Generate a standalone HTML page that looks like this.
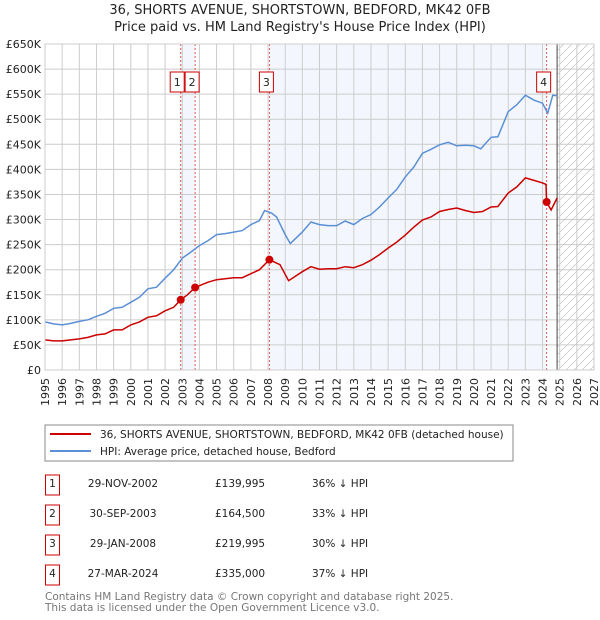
<!DOCTYPE html>
<html><head><meta charset="utf-8"><style>
body{margin:0;background:#fff;}
svg{display:block;font-family:"DejaVu Sans","Liberation Sans",sans-serif;}
</style></head><body>
<svg id="chart" width="600" height="620" viewBox="0 0 600 620" xmlns="http://www.w3.org/2000/svg">
<defs>
<pattern id="hatch" patternUnits="userSpaceOnUse" width="8" height="8">
<path d="M0,8 L8,0" stroke="#cccccc" stroke-width="0.8"/>
</pattern>
</defs>
<text x="300" y="14" text-anchor="middle" font-size="13" fill="#222">36, SHORTS AVENUE, SHORTSTOWN, BEDFORD, MK42 0FB</text>
<text x="300" y="31" text-anchor="middle" font-size="13" fill="#222">Price paid vs. HM Land Registry's House Price Index (HPI)</text>
<g id="plot"></g>
<g id="legend">
<rect x="45" y="425" width="468" height="36" fill="#fff" stroke="#888" stroke-width="1"/>
<line x1="50" y1="434" x2="91" y2="434" stroke="#cc0000" stroke-width="2"/>
<text x="100" y="438" font-size="10.5" fill="#222">36, SHORTS AVENUE, SHORTSTOWN, BEDFORD, MK42 0FB (detached house)</text>
<line x1="50" y1="451" x2="91" y2="451" stroke="#5b8fd6" stroke-width="2"/>
<text x="100" y="455" font-size="10.5" fill="#222">HPI: Average price, detached house, Bedford</text>
</g>
<g id="table"></g>
<text x="45" y="600" font-size="10.5" fill="#777">Contains HM Land Registry data © Crown copyright and database right 2025.</text>
<text x="45" y="611" font-size="10.5" fill="#777">This data is licensed under the Open Government Licence v3.0.</text>
</svg>
<script>
const hpiYears=[1995,1995.5,1996,1996.5,1997,1997.5,1998,1998.5,1999,1999.5,2000,2000.5,2001,2001.5,2002,2002.5,2003,2003.5,2004,2004.5,2005,2005.5,2006,2006.5,2007,2007.5,2007.8,2008.2,2008.5,2009,2009.3,2010,2010.5,2011,2011.5,2012,2012.5,2013,2013.5,2014,2014.5,2015,2015.5,2016,2016.5,2017,2017.5,2018,2018.5,2019,2019.5,2020,2020.4,2021,2021.4,2022,2022.5,2023,2023.5,2024,2024.3,2024.6,2024.85];
const hpiValues=[96,92,90,93,97,100,107,113,123,125,135,145,162,165,183,200,223,235,248,258,270,272,275,278,290,298,318,313,305,270,252,275,295,290,288,288,297,290,302,310,325,343,360,385,405,432,440,449,454,447,448,447,441,464,465,515,529,548,538,532,512,548,547];
const ppYears=[1995,1995.5,1996,1996.5,1997,1997.5,1998,1998.5,1999,1999.5,2000,2000.5,2001,2001.5,2002,2002.5,2002.91,2003.3,2003.75,2004,2004.5,2005,2005.5,2006,2006.5,2007,2007.5,2008.08,2008.7,2009.2,2010,2010.5,2011,2011.5,2012,2012.5,2013,2013.5,2014,2014.5,2015,2015.5,2016,2016.5,2017,2017.5,2018,2018.5,2019,2019.5,2020,2020.5,2021,2021.4,2022,2022.5,2023,2023.5,2024,2024.2,2024.24,2024.5,2024.85];
const ppValues=[60,58,58,60,62,65,70,72,80,80,90,96,105,108,118,125,140,150,164.5,168,175,180,182,184,184,192,200,220,210,178,196,206,201,202,202,206,204,210,219,230,243,255,269,285,299,305,316,320,323,318,314,316,325,326,353,365,383,378,373,370,335,319,343];
const sales=[{n:"1",t:2002.91,v:139.995,date:"29-NOV-2002",price:"£139,995",pct:"36% ↓ HPI"},{n:"2",t:2003.75,v:164.5,date:"30-SEP-2003",price:"£164,500",pct:"33% ↓ HPI"},{n:"3",t:2008.08,v:219.995,date:"29-JAN-2008",price:"£219,995",pct:"30% ↓ HPI"},{n:"4",t:2024.24,v:335,date:"27-MAR-2024",price:"£335,000",pct:"37% ↓ HPI"}];
const yTicks=[0,50,100,150,200,250,300,350,400,450,500,550,600,650];
const yTickLabels=["£0","£50K","£100K","£150K","£200K","£250K","£300K","£350K","£400K","£450K","£500K","£550K","£600K","£650K"];
const xTicks=[1995,1996,1997,1998,1999,2000,2001,2002,2003,2004,2005,2006,2007,2008,2009,2010,2011,2012,2013,2014,2015,2016,2017,2018,2019,2020,2021,2022,2023,2024,2025,2026,2027];
const dataEnd=2024.85;

const L=45,R=594,T=44,B=370,x0=1995,x1=2027,ymax=650;
const X=t=>L+(t-x0)/(x1-x0)*(R-L);
const Y=v=>B-v/ymax*(B-T);
const NS="http://www.w3.org/2000/svg";
const plot=document.getElementById('plot');
function mk(tag,attrs,parent){const e=document.createElementNS(NS,tag);for(const k in attrs)e.setAttribute(k,attrs[k]);(parent||plot).appendChild(e);return e;}

for(let i=0;i<sales.length;i+=2){
  const a=sales[i].t,b=sales[i+1].t;
  const r=mk('rect',{x:X(a),y:T,width:X(b)-X(a),height:B-T,fill:'#eef3fc',opacity:0.7});
  
  
}
const h=mk('rect',{x:X(dataEnd),y:T,width:R-X(dataEnd),height:B-T,fill:'url(#hatch)'});


xTicks.forEach(t=>{mk('line',{x1:X(t),y1:T,x2:X(t),y2:B,stroke:'#cccccc','stroke-width':1});
  const tx=mk('text',{x:0,y:0,transform:`translate(${X(t)+4},${B+8}) rotate(-90)`,'text-anchor':'end','font-size':11,fill:'#222'});
  tx.textContent=t;
  
  
});
yTicks.forEach((v,i)=>{mk('line',{x1:L,y1:Y(v),x2:R,y2:Y(v),stroke:'#cccccc','stroke-width':1});
  const tx=mk('text',{x:L-4,y:Y(v)+4,'text-anchor':'end','font-size':11,fill:'#222'});
  tx.textContent=yTickLabels[i];
  
  
});
mk('line',{x1:X(dataEnd),y1:T,x2:X(dataEnd),y2:B,stroke:'#666','stroke-width':1.2});
sales.forEach(s=>{const l=mk('line',{x1:X(s.t),y1:T,x2:X(s.t),y2:B,stroke:'#e05555','stroke-width':1,'stroke-dasharray':'2,2'});
  
  });
function path(xs,vs){return xs.map((t,i)=>(i?'L':'M')+X(t).toFixed(1)+','+Y(vs[i]).toFixed(1)).join('');}
const hp=mk('path',{d:path(hpiYears,hpiValues),fill:'none',stroke:'#5b8fd6','stroke-width':1.5});


const pp=mk('path',{d:path(ppYears,ppValues),fill:'none',stroke:'#cc0000','stroke-width':1.5});


sales.forEach(s=>{const c=mk('circle',{cx:X(s.t),cy:Y(s.v),r:4,fill:'#cc0000'});
  
  });
const labelOffsets=[-3.5,-3,-3,-3];
sales.forEach((s,i)=>{const cx=X(s.t)+labelOffsets[i];
  const g=mk('g',{});
  
  
  mk('rect',{x:cx-7,y:72,width:14,height:20,fill:'#fff',stroke:'#cc0000','stroke-width':1},g);
  const t=mk('text',{x:cx,y:86,'text-anchor':'middle','font-size':11,fill:'#222'},g);t.textContent=s.n;});
mk('rect',{x:L,y:T,width:R-L,height:B-T,fill:'none',stroke:'#cccccc','stroke-width':1});
const tb=document.getElementById('table');
sales.forEach((s,i)=>{const y=483+i*30;
  const g=mk('g',{},tb);
  
  
  mk('rect',{x:45.5,y:y-8,width:14,height:20,fill:'#fff',stroke:'#cc0000','stroke-width':1},g);
  let t=mk('text',{x:52.5,y:y+4,'text-anchor':'middle','font-size':10.5,fill:'#222'},g);t.textContent=s.n;
  t=mk('text',{x:123,y:y+4,'text-anchor':'middle','font-size':10.5,fill:'#222'},g);t.textContent=s.date;
  t=mk('text',{x:215,y:y+4,'font-size':10.5,fill:'#222'},g);t.textContent=s.price;
  t=mk('text',{x:312,y:y+4,'font-size':10.5,fill:'#222'},g);t.textContent=s.pct;
});
</script>
</body></html>
